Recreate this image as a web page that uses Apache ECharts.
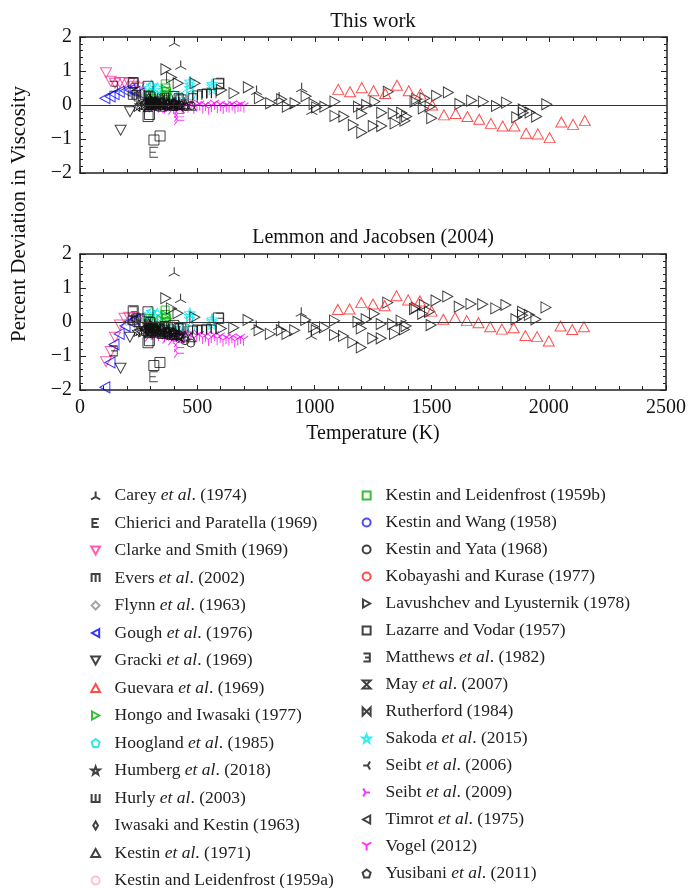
<!DOCTYPE html>
<html>
<head>
<meta charset="utf-8">
<script src="https://cdn.jsdelivr.net/npm/echarts@6/dist/echarts.min.js"></script>
<style>
  html, body { margin: 0; padding: 0; background: #fff; }
  #chart { width: 689px; height: 888px; }
</style>
</head>
<body>
<div id="chart"></div>
<script>
// Argon viscosity: percent deviations of experimental data from two correlations.
// For each data set: temperatures (K), deviations from "This work" (top panel)
// and from Lemmon and Jacobsen (2004) (bottom panel).

const careyT = [402, 429, 752, 848, 944, 987];
const careyTop = [1.86, 1.18, 0.44, 0.25, 0.52, -0.15];
const careyBot = [1.48, 0.70, -0.09, -0.10, 0.30, -0.38];

const chiericiT = [315, 300, 320];
const chiericiTop = [-1.39, 0.05, 0.00];
const chiericiBot = [-1.61, -0.25, -0.30];

const clarkeT = [111, 131, 149, 170, 190, 210, 230, 250];
const clarkeTop = [0.95, 0.70, 0.64, 0.66, 0.66, 0.64, 0.55, 0.50];
const clarkeBot = [-1.17, -0.87, -0.45, -0.09, 0.11, 0.14, 0.12, 0.10];

const eversT = [240, 300, 360, 420, 480, 500, 520, 540, 560];
const eversTop = [0.30, 0.25, 0.20, 0.20, 0.20, 0.28, 0.32, 0.34, 0.33];
const eversBot = [0.10, 0.00, -0.12, -0.18, -0.25, -0.22, -0.24, -0.20, -0.22];

const flynnT = [197, 247, 297, 347, 373];
const flynnTop = [0.40, 0.30, 0.10, 0.05, 0.00];
const flynnBot = [0.00, 0.05, -0.10, -0.20, -0.28];

const goughT = [106, 128, 145, 167, 192, 213, 234, 255];
const goughTop = [0.20, 0.25, 0.32, 0.39, 0.42, 0.44, 0.39, 0.35];
const goughBot = [-1.92, -1.19, -0.66, -0.35, -0.12, 0.01, 0.08, 0.10];

const grackiT = [173, 213];
const grackiTop = [-0.74, -0.20];
const grackiBot = [-1.36, -0.45];

const guevaraT = [1100, 1150, 1200, 1250, 1300, 1350, 1400, 1450, 1500, 1550, 1600,
                  1650, 1700, 1750, 1800, 1850, 1900, 1950, 2000, 2050, 2100, 2150];
const guevaraTop = [0.46, 0.39, 0.51, 0.42, 0.34, 0.58, 0.42, 0.32, 0.00, -0.29, -0.25,
                    -0.34, -0.42, -0.54, -0.62, -0.62, -0.83, -0.85, -0.96, -0.50, -0.57, -0.46];
const guevaraBot = [0.37, 0.38, 0.57, 0.53, 0.48, 0.77, 0.65, 0.62, 0.32, 0.08, 0.13,
                    0.04, -0.02, -0.14, -0.21, -0.17, -0.40, -0.43, -0.56, -0.12, -0.22, -0.14];

const hongoT = [298, 323, 348, 365, 370];
const hongoTop = [-0.05, 0.05, 0.20, 0.45, 0.30];
const hongoBot = [-0.30, -0.20, 0.05, 0.20, 0.10];

const hooglandT = [298, 323, 348, 373, 398, 423, 448, 473];
const hooglandTop = [0.35, 0.30, 0.30, 0.35, 0.30, 0.28, 0.30, 0.30];
const hooglandBot = [0.05, 0.00, -0.05, -0.05, -0.10, -0.12, -0.15, -0.15];

const humbergT = [243, 253, 263, 273, 283, 293, 303, 313, 323, 333, 343, 353, 363, 373, 383, 393, 403, 413, 423, 433];
const humbergTop = [-0.05, 0.00, -0.03, 0.02, -0.05, 0.03, 0.00, -0.02, 0.04, 0.00,
                    0.02, -0.03, 0.00, 0.03, -0.02, 0.01, 0.04, 0.00, -0.02, 0.02];
const humbergBot = [-0.28, -0.25, -0.30, -0.22, -0.27, -0.20, -0.25, -0.30, -0.22, -0.28,
                    -0.30, -0.33, -0.35, -0.32, -0.38, -0.36, -0.40, -0.38, -0.42, -0.45];

const hurlyT = [225, 250, 275, 300, 325, 350, 375, 400, 425];
const hurlyTop = [0.30, 0.25, 0.30, 0.20, 0.15, 0.20, 0.15, 0.10, 0.10];
const hurlyBot = [0.05, 0.00, -0.05, -0.05, -0.10, -0.12, -0.15, -0.20, -0.25];

const iwasakiT = [293, 303, 313, 323, 333];
const iwasakiTop = [0.20, 0.10, 0.05, 0.00, 0.10];
const iwasakiBot = [-0.05, -0.15, -0.20, -0.25, -0.15];

const kestin71T = [298, 323, 348, 373, 398, 423, 448, 473];
const kestin71Top = [0.15, 0.10, 0.08, 0.05, 0.05, 0.00, 0.02, -0.02];
const kestin71Bot = [-0.10, -0.15, -0.20, -0.25, -0.30, -0.35, -0.40, -0.45];

const kl59aT = [293, 303, 313, 323];
const kl59aTop = [0.10, 0.05, 0.08, 0.02];
const kl59aBot = [-0.15, -0.20, -0.18, -0.25];

const kl59bT = [293, 303, 363, 366, 368, 370];
const kl59bTop = [0.30, 0.20, 0.62, 0.50, 0.40, 0.30];
const kl59bBot = [0.10, 0.00, 0.35, 0.22, 0.12, 0.02];

const kwangT = [293, 303, 313, 323];
const kwangTop = [0.05, 0.10, 0.00, 0.05];
const kwangBot = [-0.20, -0.15, -0.25, -0.20];

const kyataT = [298, 323, 348, 373, 398, 423, 448, 473];
const kyataTop = [0.08, 0.05, 0.10, 0.02, 0.05, 0.00, -0.05, -0.02];
const kyataBot = [-0.15, -0.20, -0.18, -0.28, -0.30, -0.38, -0.55, -0.62];

const kobayashiT = [298, 298];
const kobayashiTop = [0.00, 0.10];
const kobayashiBot = [-0.20, -0.12];

const lavT = [366, 390, 418, 490, 603, 656, 717, 764, 812, 859, 883, 916, 963, 997, 1008, 1043,
              1086, 1086, 1124, 1164, 1200, 1186, 1200, 1221, 1249, 1256, 1285, 1285, 1313, 1334,
              1342, 1370, 1384, 1391, 1427, 1434, 1462, 1469, 1491, 1498, 1519, 1569, 1618, 1668,
              1718, 1774, 1817, 1860, 1888, 1888, 1917, 1945, 1988];
const lavTop = [1.05, 0.81, 0.64, 0.64, 0.44, 0.35, 0.52, 0.20, 0.05, 0.17, -0.05, 0.05, 0.26, 0.03, -0.07, -0.05,
                0.10, -0.32, -0.34, -0.59, -0.81, -0.05, -0.25, 0.00, -0.62, 0.10, -0.62, -0.23, 0.39, -0.25,
                -0.54, -0.23, -0.46, -0.34, 0.10, 0.18, -0.10, 0.20, -0.05, -0.39, 0.27, 0.37, 0.03, 0.13,
                0.10, -0.03, 0.07, -0.36, -0.13, -0.23, -0.22, -0.34, 0.02];
const lavBot = [0.70, 0.40, 0.26, 0.14, -0.19, -0.17, 0.06, -0.24, -0.35, -0.24, -0.35, -0.24, 0.06, -0.14, -0.24, -0.16,
                0.04, -0.38, -0.41, -0.60, -0.75, 0.01, -0.19, 0.08, -0.48, 0.24, -0.48, -0.06, 0.57, -0.06,
                -0.35, 0.04, -0.22, -0.12, 0.38, 0.42, 0.24, 0.50, 0.30, -0.09, 0.63, 0.75, 0.45, 0.53,
                0.52, 0.40, 0.50, 0.08, 0.30, 0.20, 0.21, 0.08, 0.43];

const lazarreT = [227, 290, 290, 296, 315, 341, 400, 430, 590];
const lazarreTop = [0.66, 0.55, -0.34, -0.28, -1.03, -0.91, 0.25, 0.15, 0.62];
const lazarreBot = [0.33, 0.30, -0.61, -0.55, -1.28, -1.19, -0.10, -0.20, 0.12];

const matthewsT = [142, 227, 596];
const matthewsTop = [0.55, 0.64, 0.64];
const matthewsBot = [-0.85, 0.30, 0.11];

const mayT = [298, 323, 348, 373, 398];
const mayTop = [0.00, 0.05, -0.05, 0.02, -0.03];
const mayBot = [-0.30, -0.25, -0.35, -0.30, -0.38];

const rutherfordT = [298, 308];
const rutherfordTop = [0.10, 0.05];
const rutherfordBot = [-0.20, -0.25];

const sakodaT = [295, 305, 318, 330, 468, 468, 468, 563, 563, 563];
const sakodaTop = [0.50, 0.58, 0.45, 0.50, 0.69, 0.60, 0.50, 0.62, 0.55, 0.47];
const sakodaBot = [0.22, 0.30, 0.18, 0.25, 0.26, 0.18, 0.10, 0.08, 0.02, -0.06];

const seibt06T = [298, 323, 348, 373, 398, 423];
const seibt06Top = [0.10, 0.00, -0.05, 0.05, 0.00, -0.10];
const seibt06Bot = [-0.20, -0.30, -0.35, -0.30, -0.40, -0.50];

const seibt09T = [298, 298, 323, 348, 373, 373, 398, 398, 423, 423, 423, 423, 423];
const seibt09Top = [0.00, -0.08, -0.05, 0.05, -0.10, 0.00, -0.15, -0.05, -0.05, -0.15, -0.25, -0.35, -0.45];
const seibt09Bot = [-0.35, -0.45, -0.40, -0.30, -0.50, -0.38, -0.55, -0.42, -0.30, -0.45, -0.60, -0.75, -0.92];

const timrotT = [273, 298, 323];
const timrotTop = [0.05, 0.10, 0.00];
const timrotBot = [-0.20, -0.15, -0.30];

const vogelT = [298, 310, 323, 335, 348, 360, 373, 385, 398, 410, 423, 435, 448, 460, 473, 485, 498,
                510, 523, 535, 548, 560, 573, 585, 598, 610, 623, 635, 648, 660, 673, 685, 698];
const vogelTop = [0.02, -0.05, 0.03, -0.08, 0.00, -0.10, -0.04, 0.02, -0.12, -0.06, 0.00, -0.10, -0.03,
                  -0.08, 0.01, -0.12, -0.05, -0.02, -0.10, -0.04, -0.14, -0.06, 0.00, -0.09, -0.03, -0.12,
                  -0.05, -0.08, -0.02, -0.10, -0.06, -0.03, -0.08];
const vogelBot = [-0.30, -0.38, -0.28, -0.42, -0.35, -0.45, -0.38, -0.32, -0.50, -0.40, -0.36, -0.48, -0.40,
                  -0.45, -0.38, -0.52, -0.44, -0.42, -0.50, -0.45, -0.56, -0.48, -0.42, -0.53, -0.46, -0.58,
                  -0.50, -0.54, -0.48, -0.60, -0.55, -0.50, -0.56];

const yusibaniT = [298, 323, 348, 373];
const yusibaniTop = [0.15, 0.10, 0.05, 0.00];
const yusibaniBot = [-0.10, -0.20, -0.25, -0.30];

// Axis ticks
const xTicks = [0, 500, 1000, 1500, 2000, 2500];
const yTicks = [-2, -1, 0, 1, 2];

const FONT = '"Liberation Serif", "Times New Roman", serif';

// Marker glyphs
const SYM = {
  triUp: 'path://M5,0L5,5M5,5L0.67,7.5M5,5L9.33,7.5',
  triDown: 'path://M5,10L5,5M5,5L0.67,2.5M5,5L9.33,2.5',
  triLeft: 'path://M0,5L5,5M5,5L7.5,0.67M5,5L7.5,9.33',
  triRight: 'path://M10,5L5,5M5,5L2.5,0.67M5,5L2.5,9.33',
  letterE: 'path://M8,0L0,0L0,10L8,10M0,5L6,5',
  revE: 'path://M0,0L8,0L8,10L0,10M8,5L2,5',
  letterM: 'path://M0,10L0,0L10,0L10,10M5,0L5,10',
  sha: 'path://M0,0L0,10L10,10L10,0M5,0L5,10',
  hourglass: 'path://M0,0L10,0L0,10L10,10Z',
  bowtie: 'path://M0,0L10,10L10,0L0,10Z',
  star: 'path://M5,0L6.18,3.38L9.76,3.45L6.9,5.62L7.94,9.05L5,7L2.06,9.05L3.1,5.62L0.24,3.45L3.82,3.38Z',
  pentagon: 'path://M5,0L10,3.8L8.1,10L1.9,10L0,3.8Z',
  up: 'path://M5,0L10,9L0,9Z',
  down: 'path://M0,0L10,0L5,9Z',
  right: 'path://M0,0L9,5L0,10Z',
  left: 'path://M9,0L0,5L9,10Z',
  diamond: 'path://M5,0L10,5L5,10L0,5Z',
  tallDiamond: 'path://M3,0L6,5L3,10L0,5Z',
  circle: 'circle',
  square: 'path://M0,0L10,0L10,10L0,10Z'
};

// name, temperatures, top, bottom, symbol, colour, size
const sets = [
  ['Vogel (2012)', vogelT, vogelTop, vogelBot, SYM.triDown, '#ff00ff', [9, 10]],
  ['Seibt et al. (2009)', seibt09T, seibt09Top, seibt09Bot, SYM.triRight, '#ff00ff', [10, 9]],
  ['Clarke and Smith (1969)', clarkeT, clarkeTop, clarkeBot, SYM.down, '#ff3399', [11, 10]],
  ['Gough et al. (1976)', goughT, goughTop, goughBot, SYM.left, '#0000ff', [10, 11]],
  ['Kestin and Leidenfrost (1959a)', kl59aT, kl59aTop, kl59aBot, SYM.circle, '#ffb0c0', 8],
  ['Kestin and Wang (1958)', kwangT, kwangTop, kwangBot, SYM.circle, '#2020ff', 8],
  ['Kobayashi and Kurase (1977)', kobayashiT, kobayashiTop, kobayashiBot, SYM.circle, '#ff2020', 8],
  ['Hoogland et al. (1985)', hooglandT, hooglandTop, hooglandBot, SYM.pentagon, '#00e0e8', 9],
  ['Sakoda et al. (2015)', sakodaT, sakodaTop, sakodaBot, SYM.star, '#00e8f0', 11],
  ['Hongo and Iwasaki (1977)', hongoT, hongoTop, hongoBot, SYM.right, '#00b000', [9, 10]],
  ['Kestin and Leidenfrost (1959b)', kl59bT, kl59bTop, kl59bBot, SYM.square, '#00b000', 8],
  ['Flynn et al. (1963)', flynnT, flynnTop, flynnBot, SYM.diamond, '#909090', 7],
  ['Kestin and Yata (1968)', kyataT, kyataTop, kyataBot, SYM.circle, '#111111', 8],
  ['Kestin et al. (1971)', kestin71T, kestin71Top, kestin71Bot, SYM.up, '#111111', [10, 9]],
  ['Iwasaki and Kestin (1963)', iwasakiT, iwasakiTop, iwasakiBot, SYM.tallDiamond, '#111111', [6, 10]],
  ['Hurly et al. (2003)', hurlyT, hurlyTop, hurlyBot, SYM.sha, '#111111', 9],
  ['Evers et al. (2002)', eversT, eversTop, eversBot, SYM.letterM, '#111111', 9],
  ['May et al. (2007)', mayT, mayTop, mayBot, SYM.hourglass, '#111111', 9],
  ['Rutherford (1984)', rutherfordT, rutherfordTop, rutherfordBot, SYM.bowtie, '#111111', 9],
  ['Seibt et al. (2006)', seibt06T, seibt06Top, seibt06Bot, SYM.triLeft, '#111111', [10, 9]],
  ['Timrot et al. (1975)', timrotT, timrotTop, timrotBot, SYM.left, '#111111', [9, 10]],
  ['Yusibani et al. (2011)', yusibaniT, yusibaniTop, yusibaniBot, SYM.pentagon, '#111111', 9],
  ['Humberg et al. (2018)', humbergT, humbergTop, humbergBot, SYM.star, '#111111', 10],
  ['Matthews et al. (1982)', matthewsT, matthewsTop, matthewsBot, SYM.revE, '#111111', [8, 10]],
  ['Lazarre and Vodar (1957)', lazarreT, lazarreTop, lazarreBot, SYM.square, '#111111', 10],
  ['Chierici and Paratella (1969)', chiericiT, chiericiTop, chiericiBot, SYM.letterE, '#111111', [8, 10]],
  ['Gracki et al. (1969)', grackiT, grackiTop, grackiBot, SYM.down, '#111111', [11, 10]],
  ['Carey et al. (1974)', careyT, careyTop, careyBot, SYM.triUp, '#111111', [11, 9]],
  ['Lavushchev and Lyusternik (1978)', lavT, lavTop, lavBot, SYM.right, '#111111', [10, 11]],
  ['Guevara et al. (1969)', guevaraT, guevaraTop, guevaraBot, SYM.up, '#ff2020', [11, 10]]
];

const legendLeft = [
  'Carey et al. (1974)', 'Chierici and Paratella (1969)', 'Clarke and Smith (1969)',
  'Evers et al. (2002)', 'Flynn et al. (1963)', 'Gough et al. (1976)', 'Gracki et al. (1969)',
  'Guevara et al. (1969)', 'Hongo and Iwasaki (1977)', 'Hoogland et al. (1985)',
  'Humberg et al. (2018)', 'Hurly et al. (2003)', 'Iwasaki and Kestin (1963)',
  'Kestin et al. (1971)', 'Kestin and Leidenfrost (1959a)'
];
const legendRight = [
  'Kestin and Leidenfrost (1959b)', 'Kestin and Wang (1958)', 'Kestin and Yata (1968)',
  'Kobayashi and Kurase (1977)', 'Lavushchev and Lyusternik (1978)', 'Lazarre and Vodar (1957)',
  'Matthews et al. (1982)', 'May et al. (2007)', 'Rutherford (1984)', 'Sakoda et al. (2015)',
  'Seibt et al. (2006)', 'Seibt et al. (2009)', 'Timrot et al. (1975)', 'Vogel (2012)',
  'Yusibani et al. (2011)'
];

const series = [];
sets.forEach(function (s) {
  [[s[2], 0], [s[3], 2]].forEach(function (p) {
    series.push({
      type: 'scatter',
      name: s[0],
      xAxisIndex: p[1],
      yAxisIndex: p[1],
      symbol: s[4],
      symbolSize: s[6],
      itemStyle: { color: 'rgba(0,0,0,0)', borderColor: s[5], borderWidth: 1 },
      data: s[1].map(function (t, i) { return [t, p[0][i]]; }),
      z: 3
    });
  });
});

// Zero-deviation reference lines
[0, 2].forEach(function (k) {
  series.push({
    type: 'line',
    xAxisIndex: k,
    yAxisIndex: k,
    data: [],
    markLine: {
      silent: true,
      symbol: 'none',
      label: { show: false },
      lineStyle: { color: '#333', width: 1, type: 'solid' },
      data: [{ yAxis: 0 }]
    },
    z: 1
  });
});

function xAxis(grid, pos, labels) {
  return {
    type: 'value', gridIndex: grid, position: pos,
    min: xTicks[0], max: xTicks[xTicks.length - 1], interval: xTicks[1] - xTicks[0],
    axisLine: { onZero: false, lineStyle: { color: '#222', width: 1.5 } },
    axisTick: { inside: true, length: 5, lineStyle: { color: '#222' } },
    minorTick: { show: true, splitNumber: 5, length: 4, lineStyle: { color: '#222' } },
    splitLine: { show: false },
    axisLabel: {
      show: labels, color: '#111', fontFamily: FONT, fontSize: 20, margin: 8,
      formatter: function (v) { return String(v); }
    },
    name: labels ? 'Temperature (K)' : '',
    nameLocation: 'middle', nameGap: 34,
    nameTextStyle: { color: '#111', fontFamily: FONT, fontSize: 20 }
  };
}
function yAxis(grid, pos, labels) {
  return {
    type: 'value', gridIndex: grid, position: pos,
    min: yTicks[0], max: yTicks[yTicks.length - 1], interval: yTicks[1] - yTicks[0],
    axisLine: { onZero: false, lineStyle: { color: '#222', width: 1.5 } },
    axisTick: { inside: true, length: 6, lineStyle: { color: '#222' } },
    minorTick: { show: true, splitNumber: 5, length: 3, lineStyle: { color: '#222' } },
    splitLine: { show: false },
    axisLabel: {
      show: labels, color: '#111', fontFamily: FONT, fontSize: 20, margin: 8,
      formatter: function (v) { return String(v).replace('-', '\u2212'); }
    }
  };
}

const legendText = {
  fontFamily: FONT, fontSize: 17.5, color: '#222', lineHeight: 19,
  rich: { i: { fontFamily: FONT, fontSize: 17.5, fontStyle: 'italic', color: '#222', lineHeight: 19 } }
};
function legendFmt(name) { return name.replace('et al.', '{i|et al}.'); }

const chart = echarts.init(document.getElementById('chart'), null, { renderer: 'canvas' });
chart.setOption({
  animation: false,
  backgroundColor: '#fff',
  grid: [
    { left: 80, top: 37, width: 587, height: 136 },
    { left: 80, top: 254, width: 587, height: 136 }
  ],
  xAxis: [xAxis(0, 'bottom', false), xAxis(0, 'top', false), xAxis(1, 'bottom', true), xAxis(1, 'top', false)],
  yAxis: [yAxis(0, 'left', true), yAxis(0, 'right', false), yAxis(1, 'left', true), yAxis(1, 'right', false)],
  legend: [
    {
      orient: 'vertical', left: 90, top: 486, height: 500, padding: 0,
      itemWidth: 28, itemHeight: 8, itemGap: 8.5,
      selectedMode: false, data: legendLeft, textStyle: legendText, formatter: legendFmt
    },
    {
      orient: 'vertical', left: 361, top: 486, height: 500, padding: 0,
      itemWidth: 28, itemHeight: 8, itemGap: 8,
      selectedMode: false, data: legendRight, textStyle: legendText, formatter: legendFmt
    }
  ],
  graphic: [
    { type: 'text', x: 373, y: 21, style: { text: 'This work', fontFamily: FONT, fontSize: 21, fill: '#111', align: 'center', verticalAlign: 'middle' } },
    { type: 'text', x: 373, y: 238, style: { text: 'Lemmon and Jacobsen (2004)', fontFamily: FONT, fontSize: 20, fill: '#111', align: 'center', verticalAlign: 'middle' } },
    { type: 'text', x: 19, y: 214, rotation: Math.PI / 2, style: { text: 'Percent Deviation in Viscosity', fontFamily: FONT, fontSize: 21, fill: '#111', align: 'center', verticalAlign: 'middle' } }
  ],
  series: series
});
</script>
</body>
</html>
